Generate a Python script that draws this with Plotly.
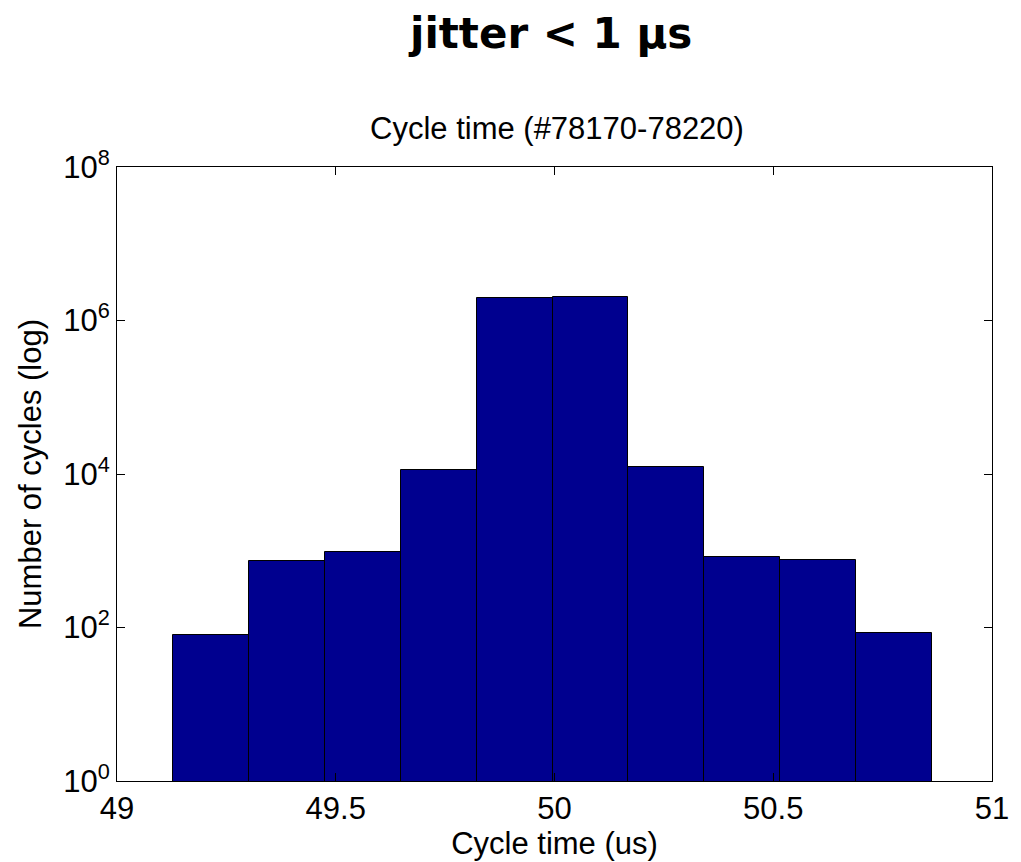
import plotly.graph_objects as go

bin_edges = [49.128, 49.3015, 49.475, 49.6485, 49.822, 49.9955, 50.169, 50.3425, 50.516, 50.6895, 50.863]
counts = [80, 742, 955, 11270, 1.96e6, 2.02e6, 12340, 836, 751, 85]
x_ticks = [49, 49.5, 50, 50.5, 51]
x_tick_labels = ["49", "49.5", "50", "50.5", "51"]
y_ticks = [1, 1e2, 1e4, 1e6, 1e8]
y_tick_labels = ["10<sup>0</sup>", "10<sup>2</sup>", "10<sup>4</sup>", "10<sup>6</sup>", "10<sup>8</sup>"]

centers = [(a + b) / 2 for a, b in zip(bin_edges[:-1], bin_edges[1:])]
widths = [b - a for a, b in zip(bin_edges[:-1], bin_edges[1:])]

FS = 31

fig = go.Figure()
fig.add_trace(go.Bar(
    x=centers, y=counts, width=widths,
    marker=dict(color="#00008F", line=dict(color="black", width=1)),
    showlegend=False,
))

# page body has an 8px default margin: figure is shifted by 8px
fig.update_layout(
    width=1013, height=854,
    margin=dict(l=109, r=29, t=159, b=81),
    paper_bgcolor="white", plot_bgcolor="white",
    font=dict(family="Liberation Sans, Arial", color="black", size=FS),
    bargap=0,
    annotations=[
        dict(text="<b>jitter &lt; 1 μs</b>", xref="paper", yref="paper",
             x=0.4943, y=1.0, yanchor="middle", xanchor="center",
             yshift=134, showarrow=False,
             font=dict(family="DejaVu Sans, Verdana", size=42, color="black")),
        dict(text="Cycle time (#78170-78220)", xref="paper", yref="paper",
             x=0.503, y=1.0, yanchor="bottom", xanchor="center",
             yshift=19, showarrow=False,
             font=dict(family="Liberation Sans, Arial", size=FS, color="black")),
    ],
)

fig.update_xaxes(
    range=[49, 51], tickvals=x_ticks, ticktext=x_tick_labels,
    ticks="inside", ticklen=8, tickcolor="black", tickwidth=1,
    showline=True, linecolor="black", linewidth=1, mirror="ticks",
    showgrid=False, zeroline=False,
    title=dict(text="Cycle time (us)", font=dict(size=FS), standoff=0),
    tickfont=dict(size=FS),
)
fig.update_yaxes(
    type="log", range=[0, 8], tickvals=y_ticks, ticktext=y_tick_labels,
    ticks="inside", ticklen=8, tickcolor="black", tickwidth=1,
    showline=True, linecolor="black", linewidth=1, mirror="ticks",
    showgrid=False, zeroline=False,
    title=dict(text="Number of cycles (log)", font=dict(size=FS), standoff=12),
    tickfont=dict(size=FS),
)

fig.write_html("out.html")
